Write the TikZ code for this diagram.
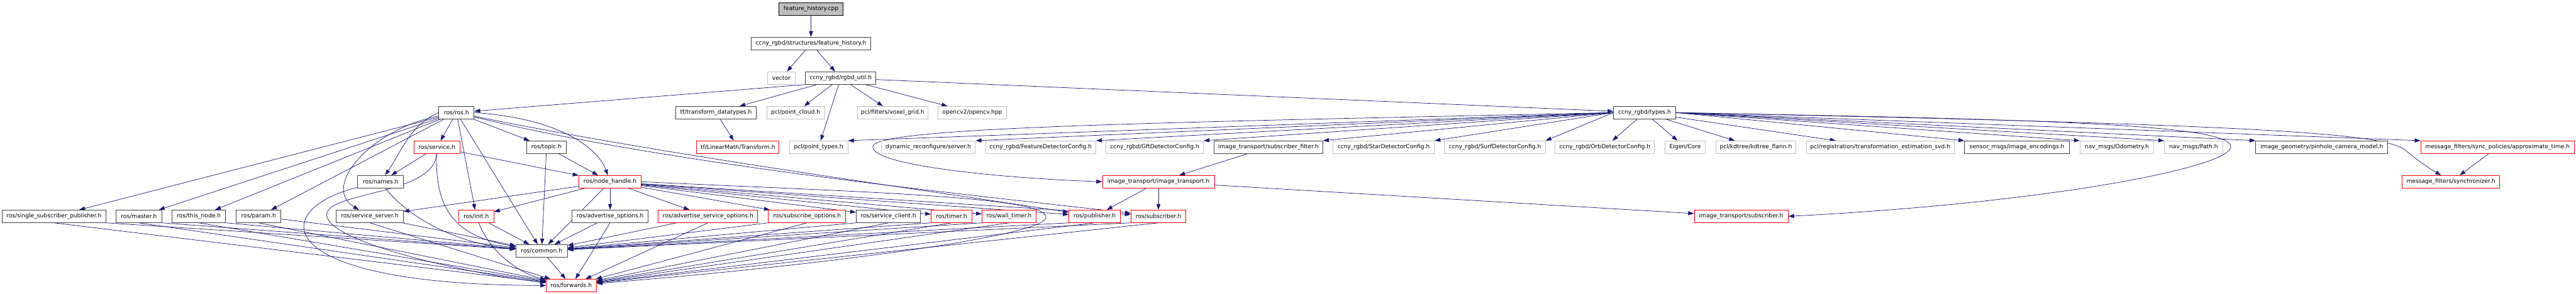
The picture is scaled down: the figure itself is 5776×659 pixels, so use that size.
\documentclass[tikz,border=0pt]{standalone}
\usepackage{fontspec}
\setmainfont{DejaVu Sans}
\usetikzlibrary{arrows.meta, backgrounds}
\definecolor{edgeblue}{RGB}{25,25,112}
\definecolor{docline}{RGB}{64,64,64}
\definecolor{extline}{RGB}{191,191,191}
\definecolor{rootfill}{RGB}{191,191,191}
\tikzset{
  hdr/.style={draw=docline, fill=white, line width=1.3pt, minimum height=28pt,
    inner sep=0pt, font=\fontsize{12.9}{15}\selectfont},
  trunc/.style={hdr, draw=red},
  ext/.style={hdr, draw=extline},
  root/.style={hdr, draw=black, fill=rootfill},
  dep/.style={draw=edgeblue, line width=1pt, -{Triangle[length=13pt,width=9pt]}}
}
\begin{document}
\begin{tikzpicture}[x=1pt, y=-1pt]
  \useasboundingbox (0,0) rectangle (5776,659);
  % row 0 to 2
  \node[root, minimum width=143pt] (cpp) at (1818.5,20) {feature\_history.cpp};
  \node[hdr, minimum width=267pt] (fh) at (1818.5,97.6) {ccny\_rgbd/structures/feature\_history.h};
  \node[ext, minimum width=62pt] (vector) at (1752,175.2) {vector};
  \node[hdr, minimum width=158pt] (util) at (1885,175.2) {ccny\_rgbd/rgbd\_util.h};
  % row 3
  \node[hdr, minimum width=79pt] (rosros) at (1023.5,252.8) {ros/ros.h};
  \node[hdr, minimum width=181pt] (tfdt) at (1605.5,252.8) {tf/transform\_datatypes.h};
  \node[ext, minimum width=130pt] (pclcloud) at (1784,252.8) {pcl/point\_cloud.h};
  \node[ext, minimum width=159pt] (voxel) at (2001.5,252.8) {pcl/filters/voxel\_grid.h};
  \node[ext, minimum width=154pt] (opencv) at (2180,252.8) {opencv2/opencv.hpp};
  \node[hdr, minimum width=139pt] (types) at (3687.5,252.8) {ccny\_rgbd/types.h};
  % row 4
  \node[trunc, minimum width=103pt] (service) at (979.5,330.4) {ros/service.h};
  \node[hdr, minimum width=89pt] (topic) at (1225.5,330.4) {ros/topic.h};
  \node[trunc, minimum width=185pt] (ltf) at (1654.5,330.4) {tf/LinearMath/Transform.h};
  \node[ext, minimum width=131pt] (ptypes) at (1835.5,330.4) {pcl/point\_types.h};
  \node[ext, minimum width=211pt] (dynrec) at (2081.5,330.4) {dynamic\_reconfigure/server.h};
  \node[ext, minimum width=247pt] (featcfg) at (2333.5,330.4) {ccny\_rgbd/FeatureDetectorConfig.h};
  \node[ext, minimum width=218pt] (gftcfg) at (2589,330.4) {ccny\_rgbd/GftDetectorConfig.h};
  \node[hdr, minimum width=244pt] (subfilt) at (2844,330.4) {image\_transport/subscriber\_filter.h};
  \node[ext, minimum width=227pt] (starcfg) at (3102.5,330.4) {ccny\_rgbd/StarDetectorConfig.h};
  \node[ext, minimum width=226pt] (surfcfg) at (3352,330.4) {ccny\_rgbd/SurfDetectorConfig.h};
  \node[ext, minimum width=223pt] (orbcfg) at (3598.5,330.4) {ccny\_rgbd/OrbDetectorConfig.h};
  \node[ext, minimum width=91pt] (eigen) at (3778.5,330.4) {Eigen/Core};
  \node[ext, minimum width=180pt] (kdtree) at (3937,330.4) {pcl/kdtree/kdtree\_flann.h};
  \node[ext, minimum width=332pt] (svd) at (4216,330.4) {pcl/registration/transformation\_estimation\_svd.h};
  \node[hdr, minimum width=235pt] (enc) at (4522.5,330.4) {sensor\_msgs/image\_encodings.h};
  \node[ext, minimum width=165pt] (odom) at (4746.5,330.4) {nav\_msgs/Odometry.h};
  \node[ext, minimum width=131pt] (navpath) at (4918.5,330.4) {nav\_msgs/Path.h};
  \node[hdr, minimum width=296pt] (pinhole) at (5206,330.4) {image\_geometry/pinhole\_camera\_model.h};
  \node[trunc, minimum width=344pt] (approx) at (5600,330.4) {message\_filters/sync\_policies/approximate\_time.h};
  % row 5
  \node[hdr, minimum width=103pt] (names) at (853.5,408) {ros/names.h};
  \node[trunc, minimum width=140pt] (nh) at (1368,408) {ros/node\_handle.h};
  \node[trunc, minimum width=251pt] (itp) at (2597.5,408) {image\_transport/image\_transport.h};
  \node[trunc, minimum width=219pt] (sync) at (5495.5,408) {message\_filters/synchronizer.h};
  % row 6
  \node[hdr, minimum width=232pt] (ssp) at (121,485.6) {ros/single\_subscriber\_publisher.h};
  \node[hdr, minimum width=103pt] (master) at (311.5,485.6) {ros/master.h};
  \node[hdr, minimum width=120pt] (thisnode) at (446,485.6) {ros/this\_node.h};
  \node[hdr, minimum width=100pt] (param) at (580,485.6) {ros/param.h};
  \node[hdr, minimum width=150pt] (srvserver) at (829,485.6) {ros/service\_server.h};
  \node[trunc, minimum width=78pt] (init) at (1068,485.6) {ros/init.h};
  \node[hdr, minimum width=170pt] (advopt) at (1368,485.6) {ros/advertise\_options.h};
  \node[trunc, minimum width=223pt] (advsrvopt) at (1587.5,485.6) {ros/advertise\_service\_options.h};
  \node[trunc, minimum width=173pt] (subopt) at (1809.5,485.6) {ros/subscribe\_options.h};
  \node[hdr, minimum width=144pt] (srvclient) at (1992,485.6) {ros/service\_client.h};
  \node[trunc, minimum width=91pt] (timer) at (2133.5,485.6) {ros/timer.h};
  \node[trunc, minimum width=121pt] (walltimer) at (2262.5,485.6) {ros/wall\_timer.h};
  \node[trunc, minimum width=115pt] (publisher) at (2454.5,485.6) {ros/publisher.h};
  \node[trunc, minimum width=123pt] (subscriber) at (2597.5,485.6) {ros/subscriber.h};
  \node[trunc, minimum width=210pt] (itsub) at (3904,485.6) {image\_transport/subscriber.h};
  % row 7 and 8
  \node[hdr, minimum width=115pt] (common) at (1214.5,563.2) {ros/common.h};
  \node[trunc, minimum width=112pt] (forwards) at (1281,640.8) {ros/forwards.h};

  \begin{scope}[on background layer]
    % top of the graph
    \draw[dep] (cpp) -- (fh);
    \foreach \t in {vector, util} \draw[dep] (fh) -- (\t);
    \draw[dep] (util.south west) -- (rosros);
    \foreach \t in {tfdt, pclcloud, ptypes, voxel, opencv, types} \draw[dep] (util) -- (\t);
    \draw[dep] (tfdt) -- (ltf);
    % ccny_rgbd/types.h
    \foreach \t in {ptypes, dynrec, featcfg, gftcfg, subfilt, starcfg, surfcfg}
      \draw[dep] (types.west) -- (\t.north east);
    \foreach \t in {orbcfg, eigen, kdtree, svd} \draw[dep] (types) -- (\t);
    \foreach \t in {enc, odom, navpath, pinhole, approx}
      \draw[dep] (types.east) -- (\t.north west);
    \draw[dep] (types.west) .. controls (2600,275) and (1960,285) .. (1957,329)
      .. controls (1954,372) and (2250,400) .. (itp.west);
    \draw[dep] (types.east) .. controls (4600,268) and (5000,280) .. (5002,329)
      .. controls (5004,375) and (4600,455) .. (itsub.east);
    \draw[dep] (types.east) .. controls (5100,280) and (5340,300) .. (5392,336)
      .. controls (5420,360) and (5450,380) .. ([xshift=-22pt]sync.north);
    \draw[dep] (approx) -- (sync);
    \draw[dep] (subfilt) -- (itp);
    \foreach \t in {publisher, subscriber, itsub} \draw[dep] (itp) -- (\t);
    % ros/ros.h
    \foreach \t in {ssp, master, thisnode, param, service, init, common, topic}
      \draw[dep] (rosros) -- (\t);
    \draw[dep] (rosros.west) .. controls (920,280) and (900,340) .. (names);
    \draw[dep] (rosros) .. controls (830,290) and (720,420) .. (srvserver);
    \draw[dep] (rosros.east) .. controls (1250,265) and (1340,330) .. (nh);
    \draw[dep] (rosros) .. controls (1500,350) and (2100,430) .. (publisher);
    \draw[dep] (rosros) .. controls (1500,370) and (2200,440) .. (subscriber);
    % ros/service.h, ros/topic.h, ros/names.h
    \foreach \t in {names, nh} \draw[dep] (service) -- (\t);
    \draw[dep] (service) .. controls (975,470) and (1020,530) .. (common);
    \draw[dep] (service) .. controls (975,440) and (720,430) .. (733,486)
      .. controls (745,545) and (1050,615) .. (forwards);
    \foreach \t in {nh, common} \draw[dep] (topic) -- (\t);
    \draw[dep] (names) .. controls (900,470) and (1000,545) .. (common);
    \draw[dep] (names) .. controls (600,470) and (600,640) .. (forwards);
    % ros/node_handle.h
    \foreach \t in {init, advopt, common, srvserver, advsrvopt, subopt, srvclient,
      timer, walltimer, publisher, subscriber} \draw[dep] (nh) -- (\t);
    \draw[dep] (nh.east) .. controls (1900,430) and (2340,440) .. (2345,486)
      .. controls (2360,530) and (1800,600) .. (forwards);
    % into ros/common.h and ros/forwards.h
    \foreach \s in {ssp, master, thisnode} \draw[dep] (\s.south east) -- (common);
    \foreach \s in {param, srvserver, init, advopt, advsrvopt} \draw[dep] (\s) -- (common);
    \foreach \s in {subopt, srvclient, timer, walltimer, publisher, subscriber}
      \draw[dep] (\s.south west) -- (common);
    \foreach \s in {ssp, master, thisnode, param, srvserver, advopt, advsrvopt, subopt,
      srvclient, timer, walltimer, publisher, subscriber} \draw[dep] (\s.south) -- (forwards);
    \draw[dep] (init) .. controls (1100,570) and (1170,615) .. (forwards);
    \draw[dep] (common) -- (forwards);
  \end{scope}
\end{tikzpicture}
\end{document}
